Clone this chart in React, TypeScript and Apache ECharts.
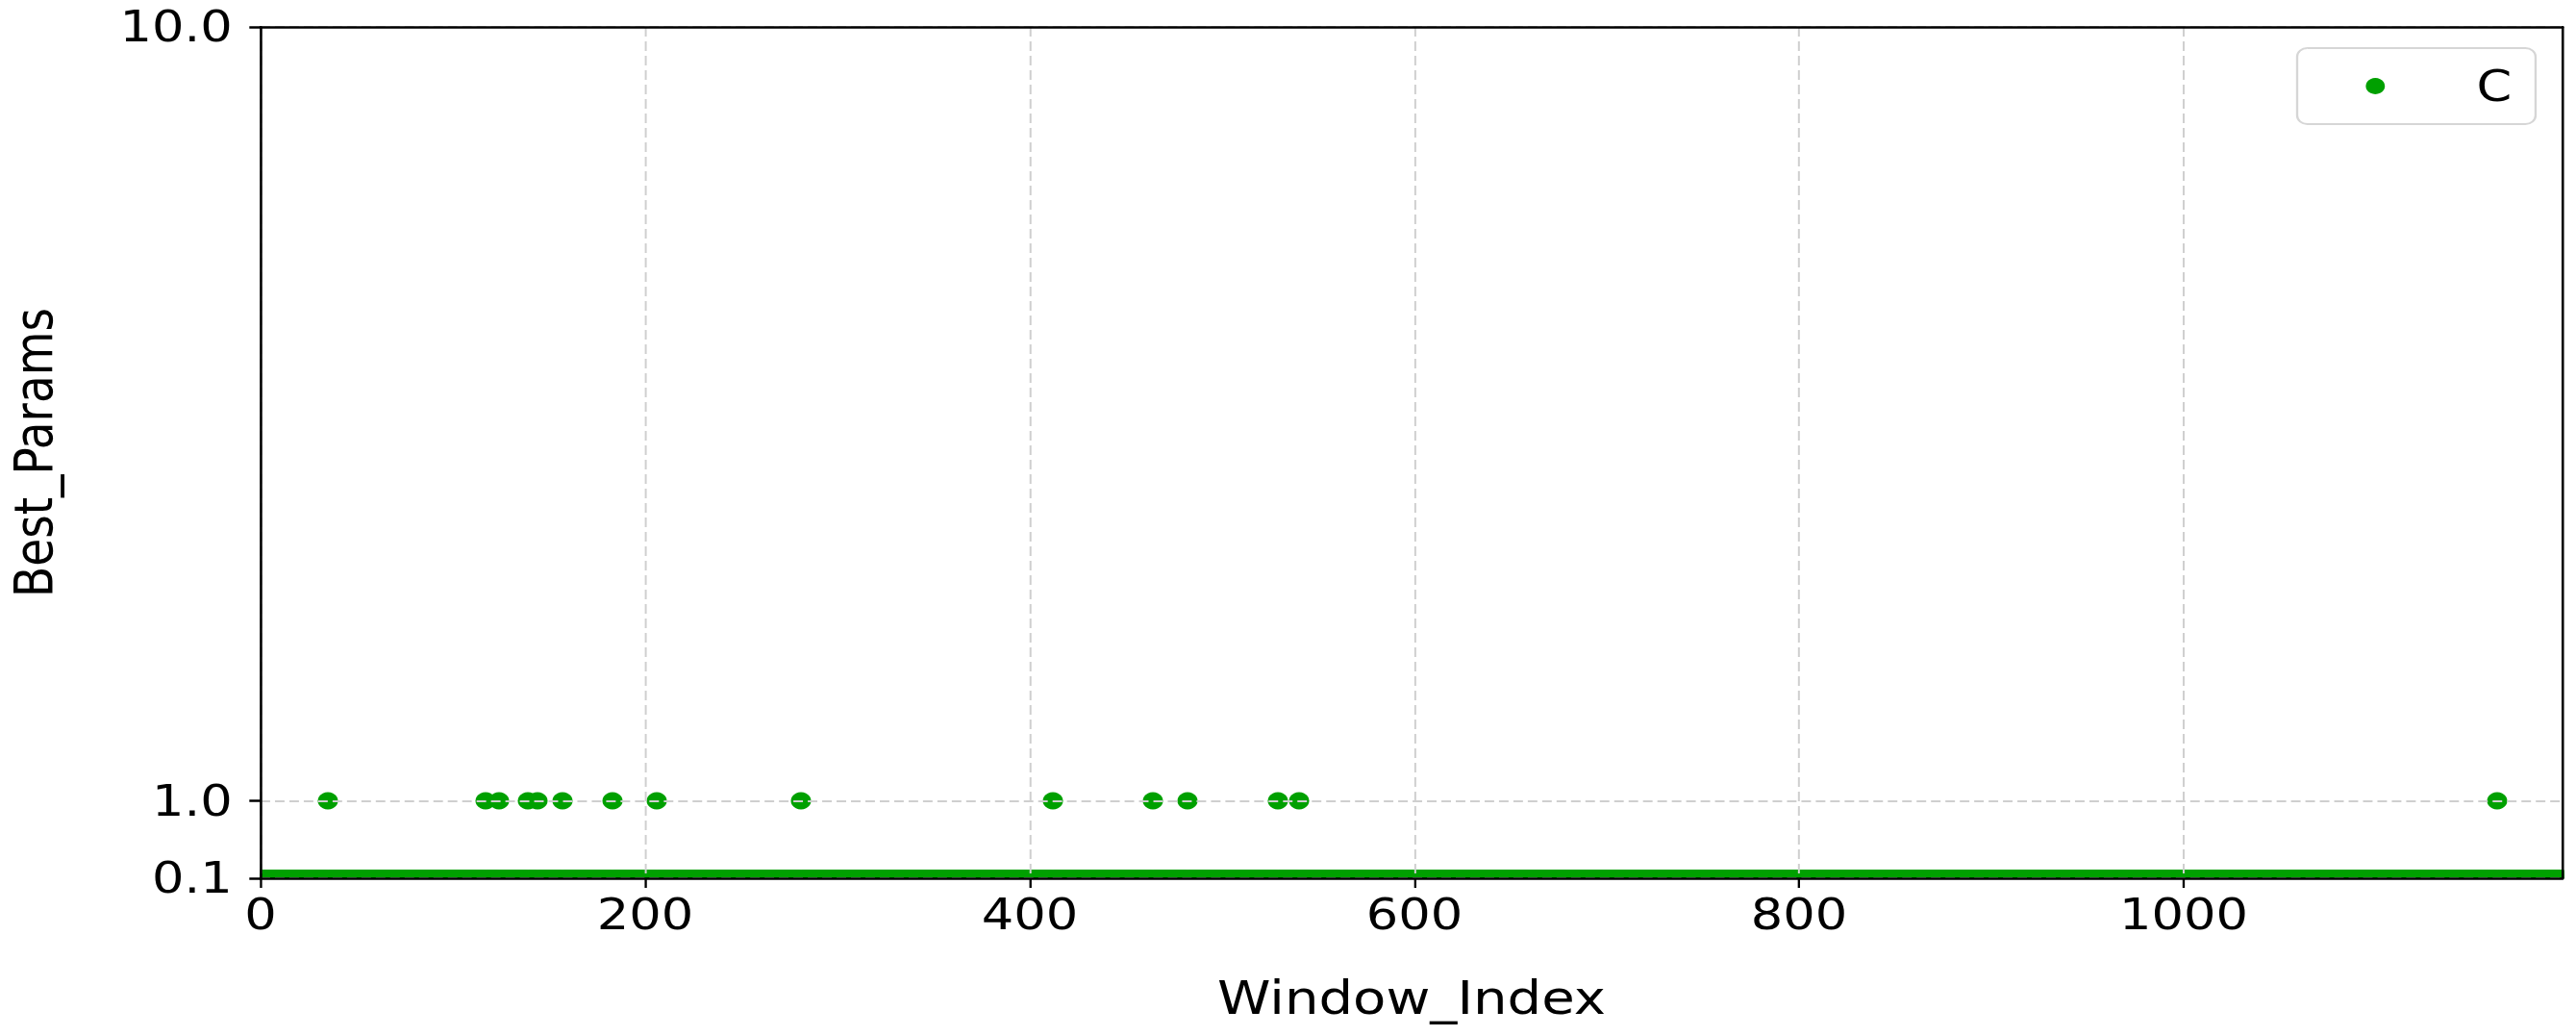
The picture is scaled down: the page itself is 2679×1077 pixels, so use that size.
import React, { useEffect, useRef } from "react";
import * as echarts from "echarts";

// ---- data ----
const WINDOW_COUNT = 1198; // window indices 0 .. 1197
const DEFAULT_C = 0.1; // value of C in every window not listed below
const C_ONE_VALUE = 1.0;
const C_ONE_WINDOWS = [35, 117, 124, 139, 144, 157, 183, 206, 281, 412, 464, 482, 529, 540, 1163];
const X_TICKS = [0, 200, 400, 600, 800, 1000];
const Y_TICKS = [0.1, 1.0, 10.0];
const X_MIN = 0;
const X_MAX = 1197;
const Y_MIN = 0.1;
const Y_MAX = 10.0;
const SERIES_NAME = "C";

// ---- style ----
const S = 1.17; // horizontal stretch of the reference picture
const FULL_W = 2679;
const FULL_H = 1077;
const W0 = FULL_W / S;
const GREEN = "#00a000";
const FONT = "DejaVu Sans";

export default function App() {
  const ref = useRef<HTMLDivElement>(null);

  useEffect(() => {
    document.body.style.margin = "0";
    if (!ref.current) return;
    const chart = echarts.init(ref.current, undefined, {
      renderer: "svg",
      width: W0,
      height: FULL_H,
    });

    const oneSet = new Set(C_ONE_WINDOWS);
    const data: number[][] = [];
    for (let i = 0; i < WINDOW_COUNT; i++) {
      data.push([i, oneSet.has(i) ? C_ONE_VALUE : DEFAULT_C]);
    }

    const plotLeft = 271 / S;
    const plotRight = 2665 / S;

    chart.setOption({
      animation: false,
      backgroundColor: "#ffffff",
      textStyle: { fontFamily: FONT, color: "#000" },
      grid: {
        left: plotLeft,
        right: W0 - plotRight,
        top: 28,
        bottom: FULL_H - 913,
        containLabel: false,
        outerBoundsMode: "none",
      },
      legend: {
        show: true,
        left: 2389 / S,
        top: 50,
        orient: "horizontal",
        data: [{ name: SERIES_NAME, icon: "circle", itemStyle: { color: GREEN } }],
        itemWidth: 18,
        itemHeight: 17,
        padding: [17, 21, 17, 61],
        backgroundColor: "#ffffff",
        borderColor: "#d6d6d6",
        borderWidth: 2,
        borderRadius: 9,
        selectedMode: false,
        textStyle: {
          fontFamily: FONT,
          fontSize: 45,
          color: "#000",
          padding: [0, 0, 0, 76],
        },
      },
      xAxis: [
        {
          type: "value",
          min: X_MIN,
          max: X_MAX,
          z: 5,
          name: "Window_Index",
          nameLocation: "middle",
          nameGap: 100,
          nameTextStyle: { fontFamily: FONT, fontSize: 48, color: "#000" },
          axisLine: { show: true, onZero: false, lineStyle: { color: "#000", width: 2.5 } },
          axisTick: {
            show: true,
            length: 10,
            customValues: X_TICKS,
            lineStyle: { color: "#000", width: 2 },
          },
          axisLabel: {
            show: true,
            customValues: X_TICKS,
            margin: 15,
            fontFamily: FONT,
            fontSize: 45,
            color: "#000",
            formatter: (v: number) => String(v),
          },
          splitLine: {
            show: true,
            lineStyle: { color: "#cfcfcf", width: 1.7, type: [10, 5] },
          },
        },
        {
          type: "value",
          position: "top",
          min: X_MIN,
          max: X_MAX,
          z: 5,
          axisLine: { show: true, onZero: false, lineStyle: { color: "#000", width: 2.5 } },
          axisTick: { show: false },
          axisLabel: { show: false },
          splitLine: { show: false },
        },
      ],
      yAxis: [
        {
          type: "value",
          min: Y_MIN,
          max: Y_MAX,
          z: 5,
          name: "Best_Params",
          nameLocation: "middle",
          nameGap: 178,
          nameRotate: 90,
          nameTextStyle: { fontFamily: FONT, fontSize: 47, color: "#000" },
          axisLine: { show: true, onZero: false, lineStyle: { color: "#000", width: 2.2 } },
          axisTick: {
            show: true,
            length: 10,
            customValues: Y_TICKS,
            lineStyle: { color: "#000", width: 2.5 },
          },
          axisLabel: {
            show: true,
            customValues: Y_TICKS,
            margin: 25,
            fontFamily: FONT,
            fontSize: 45,
            color: "#000",
            formatter: (v: number) => v.toFixed(1),
          },
          splitLine: {
            show: true,
            lineStyle: { color: "#cfcfcf", width: 2, type: [8.5, 4.3] },
          },
        },
        {
          type: "value",
          position: "right",
          min: Y_MIN,
          max: Y_MAX,
          z: 5,
          axisLine: { show: true, onZero: false, lineStyle: { color: "#000", width: 2.2 } },
          axisTick: { show: false },
          axisLabel: { show: false },
          splitLine: { show: false },
        },
      ],
      series: [
        {
          type: "custom",
          name: SERIES_NAME,
          xAxisIndex: 0,
          yAxisIndex: 0,
          clip: true,
          z: 2,
          itemStyle: { color: GREEN },
          encode: { x: 0, y: 1 },
          data,
          renderItem: (params: any, api: any) => {
            const p = api.coord([api.value(0), api.value(1)]);
            return {
              type: "circle",
              shape: { cx: p[0], cy: p[1], r: 9 },
              style: { fill: GREEN, stroke: null },
            };
          },
        },
      ],
    });

    return () => {
      chart.dispose();
    };
  }, []);

  return (
    <div
      style={{
        width: FULL_W,
        height: FULL_H,
        overflow: "hidden",
        position: "relative",
        background: "#fff",
      }}
    >
      <div
        ref={ref}
        style={{
          width: W0,
          height: FULL_H,
          transform: `scaleX(${S})`,
          transformOrigin: "0 0",
        }}
      />
    </div>
  );
}
